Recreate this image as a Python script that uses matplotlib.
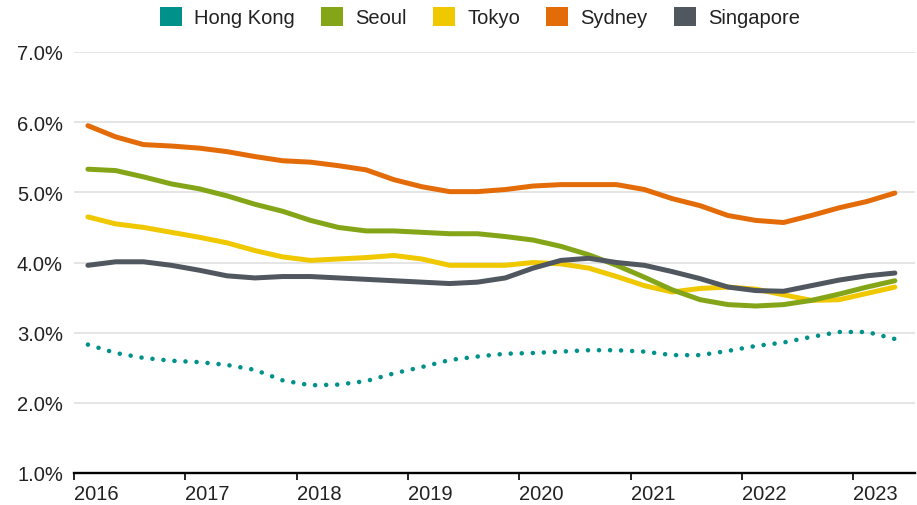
import numpy as np
import pandas as pd
import matplotlib
matplotlib.use("Agg")
import matplotlib.pyplot as plt
from matplotlib.patches import Patch

# quarterly series, 2016 Q1 .. 2023 Q2 (percent)
quarters = pd.period_range("2016Q1", periods=30, freq="Q")

hong_kong = [2.83, 2.71, 2.64, 2.60, 2.58, 2.54, 2.47, 2.32, 2.25, 2.26,
             2.31, 2.42, 2.51, 2.61, 2.66, 2.70, 2.71, 2.73, 2.75, 2.75,
             2.73, 2.68, 2.68, 2.74, 2.81, 2.86, 2.94, 3.01, 3.01, 2.91]
seoul = [5.33, 5.31, 5.22, 5.12, 5.05, 4.95, 4.83, 4.73, 4.60, 4.50,
         4.45, 4.45, 4.43, 4.41, 4.41, 4.37, 4.32, 4.23, 4.11, 3.96,
         3.79, 3.61, 3.47, 3.40, 3.38, 3.40, 3.46, 3.55, 3.65, 3.74]
tokyo = [4.65, 4.55, 4.50, 4.43, 4.36, 4.28, 4.17, 4.08, 4.03, 4.05,
         4.07, 4.10, 4.05, 3.96, 3.96, 3.96, 4.00, 3.98, 3.92, 3.80,
         3.67, 3.58, 3.63, 3.65, 3.62, 3.54, 3.46, 3.47, 3.56, 3.65]
sydney = [5.95, 5.79, 5.68, 5.66, 5.63, 5.58, 5.51, 5.45, 5.43, 5.38,
          5.32, 5.18, 5.08, 5.01, 5.01, 5.04, 5.09, 5.11, 5.11, 5.11,
          5.04, 4.91, 4.81, 4.67, 4.60, 4.57, 4.67, 4.78, 4.87, 4.99]
singapore = [3.96, 4.01, 4.01, 3.96, 3.89, 3.81, 3.78, 3.80, 3.80, 3.78,
             3.76, 3.74, 3.72, 3.70, 3.72, 3.78, 3.92, 4.03, 4.06, 4.00,
             3.96, 3.87, 3.77, 3.65, 3.60, 3.59, 3.67, 3.75, 3.81, 3.85]

names = ["Hong Kong", "Seoul", "Tokyo", "Sydney", "Singapore"]
colors = ["#00918b", "#85a518", "#f0c800", "#e36c09", "#51575e"]
year_ticks = list(range(2016, 2024))
y_ticks = [1, 2, 3, 4, 5, 6, 7]

# mid-quarter as fractional year
x = np.array([q.year + (q.quarter - 1) * 0.25 + 0.125 for q in quarters])

plt.rcParams['font.family'] = ['Liberation Sans', 'DejaVu Sans']

fig = plt.figure(figsize=(9.17, 5.06), dpi=100)
ax = fig.add_axes([74 / 917, 1 - 474 / 506, 841 / 917, 421 / 506])

ax.plot(x, seoul, color=colors[1], lw=3.6, solid_capstyle='round', solid_joinstyle='round', zorder=3)
ax.plot(x, tokyo, color=colors[2], lw=3.6, solid_capstyle='round', solid_joinstyle='round', zorder=2)
ax.plot(x, sydney, color=colors[3], lw=3.6, solid_capstyle='round', solid_joinstyle='round', zorder=3)
ax.plot(x, singapore, color=colors[4], lw=3.6, solid_capstyle='round', solid_joinstyle='round', zorder=4)
ax.plot(x, hong_kong, color=colors[0], lw=3.3, dashes=(0.01, 2.4),
        dash_capstyle='round', zorder=3)

ax.set_xlim(2016, 2023.556)
ax.set_ylim(1, 7)
ax.set_xticks(year_ticks)
ax.set_xticklabels([str(y) for y in year_ticks], ha='left')
ax.set_yticks(y_ticks)
ax.set_yticklabels(["%.1f%%" % v for v in y_ticks])

for s in ["top", "right", "left"]:
    ax.spines[s].set_visible(False)
ax.spines["bottom"].set_linewidth(1.7)
ax.spines["bottom"].set_color("black")
ax.spines["bottom"].set_zorder(5)

ax.grid(axis='y', color="#e3e3e3", lw=1.3)
ax.set_axisbelow(True)
ax.tick_params(axis='x', direction='out', length=5, width=1.2, pad=3,
               labelsize=14.5, colors="black", labelcolor="#222222")
ax.tick_params(axis='y', length=0, pad=8, labelsize=14.5, labelcolor="#222222")

handles = [Patch(facecolor=c, edgecolor='none') for c in colors]
fig.legend(handles, names, loc='center', bbox_to_anchor=(480 / 917, 1 - 18 / 506),
           ncol=5, frameon=False, fontsize=14.5, handlelength=1.1, handleheight=1.1,
           handletextpad=0.6, columnspacing=1.3, labelcolor="#222222")

fig.savefig("out.png", dpi=100)
